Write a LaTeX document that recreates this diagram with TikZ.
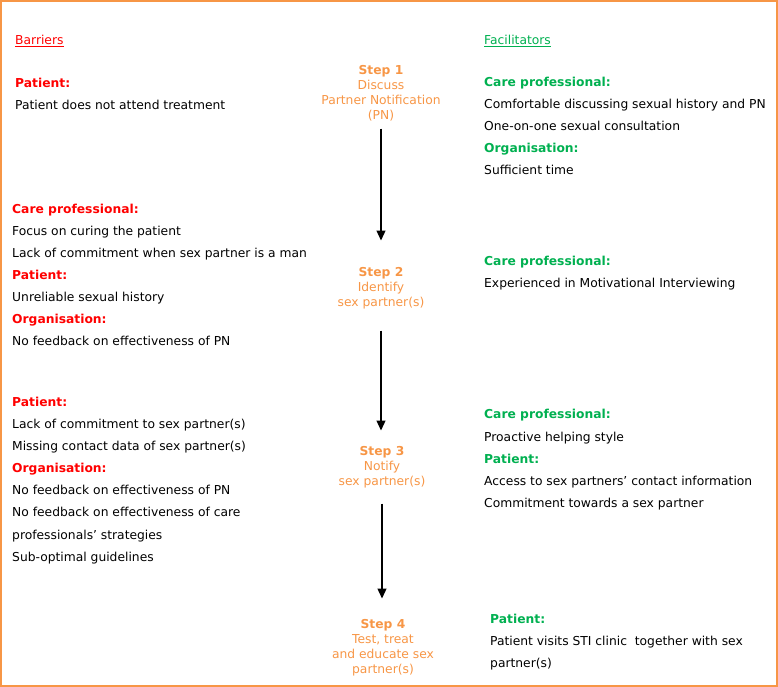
\documentclass[tikz,border=0pt]{standalone}
\usepackage{fontspec}
\setmainfont{DejaVu Sans}
\usetikzlibrary{arrows.meta}
\definecolor{steporange}{RGB}{247,150,70}
\definecolor{barred}{RGB}{255,0,0}
\definecolor{facgreen}{RGB}{0,176,80}
\tikzset{
  txt/.style={anchor=mid west, inner sep=0pt, yshift=-2.5pt, font=\fontsize{12.3}{14}\selectfont},
  bhead/.style={txt, text=barred, font=\fontsize{12.3}{14}\selectfont\bfseries},
  fhead/.style={txt, text=facgreen, font=\fontsize{12.3}{14}\selectfont\bfseries},
  stepnode/.style={anchor=north, align=center, inner sep=0pt, text=steporange, font=\fontsize{12.3}{15}\selectfont},
  flow/.style={-{Triangle[width=9pt,length=10pt]}, line width=1.3pt}
}
\begin{document}
\begin{tikzpicture}[x=1pt, y=-1pt]
      \useasboundingbox (0,0) rectangle (778,687);
      %%% orange frame round everything
      \draw[steporange, line width=2pt] (1,1) rectangle (777,686);
      %%% column titles
      \node[txt, text=barred] (barriers) at (15,39) {\underline{Barriers}};
      \node[txt, text=facgreen] (facilitators) at (484,39) {\underline{Facilitators}};
      %%% the four steps in the middle
      \node[stepnode] (s1) at (381,65.5) {\textbf{Step 1}\\Discuss\\Partner Notification\\(PN)};
      \node[stepnode] (s2) at (381,267.5) {\textbf{Step 2}\\Identify\\sex partner(s)};
      \node[stepnode] (s3) at (382,446.5) {\textbf{Step 3}\\Notify\\sex partner(s)};
      \node[stepnode] (s4) at (383,619.5) {\textbf{Step 4}\\Test, treat\\and educate sex\\partner(s)};
      %%% arrows between steps
      \draw[flow, shorten <=7pt, shorten >=27pt] (s1.south) -- (s1.south |- s2.north);
      \draw[flow, shorten <=21pt, shorten >=16pt] (s2.south) -- (s2.south |- s3.north);
      \draw[flow, shorten <=15pt, shorten >=21pt] (s3.south) -- (s3.south |- s4.north);
      %%% barriers, step 1
      \node[bhead] (b1h) at (15,82) {Patient:};
      \node[txt] (b1a) at (15,104) {Patient does not attend treatment};
      %%% barriers, step 2
      \node[bhead] (b2h1) at (12,208) {Care professional:};
      \foreach \t [count=\i] in {Focus on curing the patient, Lack of commitment when sex partner is a man}
        \node[txt] (b2a\i) at (12,208+22*\i) {\t};
      \node[bhead] (b2h2) at (12,274) {Patient:};
      \node[txt] (b2b) at (12,296) {Unreliable sexual history};
      \node[bhead] (b2h3) at (12,318) {Organisation:};
      \node[txt] (b2c) at (12,340) {No feedback on effectiveness of PN};
      %%% barriers, step 3
      \node[bhead] (b3h1) at (12,401) {Patient:};
      \foreach \t [count=\i] in {Lack of commitment to sex partner(s), Missing contact data of sex partner(s)}
        \node[txt] (b3a\i) at (12,401+22*\i) {\t};
      \node[bhead] (b3h2) at (12,467) {Organisation:};
      \foreach \t [count=\i] in {No feedback on effectiveness of PN, No feedback on effectiveness of care, professionals’ strategies, Sub-optimal guidelines}
        \node[txt] (b3b\i) at (12,467+22.3*\i) {\t};
      %%% facilitators, step 1
      \node[fhead] (f1h1) at (484,81) {Care professional:};
      \foreach \t [count=\i] in {Comfortable discussing sexual history and PN, One-on-one sexual consultation}
        \node[txt] (f1a\i) at (484,81+22*\i) {\t};
      \node[fhead] (f1h2) at (484,147) {Organisation:};
      \node[txt] (f1b) at (484,169) {Sufficient time};
      %%% facilitators, step 2
      \node[fhead] (f2h) at (484,260) {Care professional:};
      \node[txt] (f2a) at (484,282) {Experienced in Motivational Interviewing};
      %%% facilitators, step 3
      \node[fhead] (f3h1) at (484,413) {Care professional:};
      \node[txt] (f3a) at (484,436) {Proactive helping style};
      \node[fhead] (f3h2) at (484,458) {Patient:};
      \foreach \t [count=\i] in {Access to sex partners’ contact information, Commitment towards a sex partner}
        \node[txt] (f3b\i) at (484,458+22*\i) {\t};
      %%% facilitators, step 4
      \node[fhead] (f4h) at (490,618) {Patient:};
      \node[txt] (f4a1) at (490,640) {Patient visits STI clinic\ \ together with sex};
      \node[txt] (f4a2) at (490,662) {partner(s)};
    \end{tikzpicture}
\end{document}
